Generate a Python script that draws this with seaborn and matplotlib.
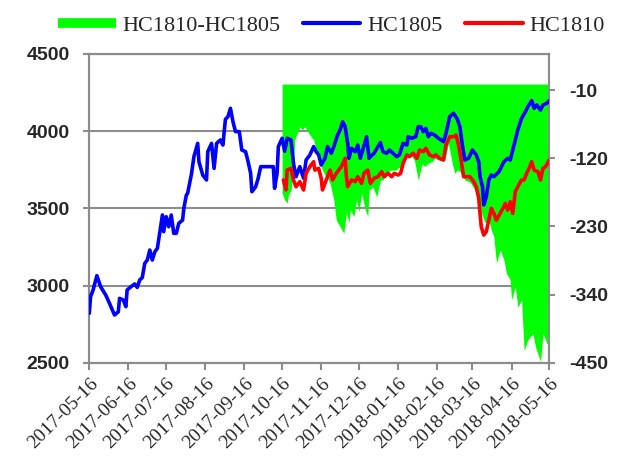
import matplotlib
matplotlib.use("Agg")
import matplotlib.pyplot as plt
import seaborn as sns
import pandas as pd
from matplotlib.lines import Line2D

# ---------------- data ----------------
blue_dates = ["2017-05-16", "2017-05-17", "2017-05-19", "2017-05-22", "2017-05-25", "2017-05-29",
              "2017-06-01", "2017-06-05", "2017-06-08", "2017-06-09", "2017-06-12", "2017-06-14",
              "2017-06-15", "2017-06-18", "2017-06-21", "2017-06-23", "2017-06-25", "2017-06-27",
              "2017-06-29", "2017-07-01", "2017-07-03", "2017-07-05", "2017-07-07", "2017-07-09",
              "2017-07-11", "2017-07-13", "2017-07-14", "2017-07-16", "2017-07-18", "2017-07-20",
              "2017-07-22", "2017-07-24", "2017-07-26", "2017-07-29", "2017-07-30", "2017-08-01",
              "2017-08-02", "2017-08-05", "2017-08-07", "2017-08-10", "2017-08-11", "2017-08-14",
              "2017-08-17", "2017-08-18", "2017-08-21", "2017-08-23", "2017-08-25", "2017-08-28",
              "2017-08-30", "2017-09-01", "2017-09-03", "2017-09-05", "2017-09-07", "2017-09-09",
              "2017-09-12", "2017-09-14", "2017-09-17", "2017-09-19", "2017-09-21", "2017-09-22",
              "2017-09-25", "2017-09-27", "2017-09-29", "2017-10-02", "2017-10-09", "2017-10-10",
              "2017-10-12", "2017-10-13", "2017-10-16", "2017-10-18", "2017-10-20", "2017-10-23",
              "2017-10-25", "2017-10-27", "2017-10-30", "2017-11-02", "2017-11-04", "2017-11-07",
              "2017-11-10", "2017-11-12", "2017-11-14", "2017-11-16", "2017-11-19", "2017-11-21",
              "2017-11-24", "2017-11-26", "2017-11-29", "2017-12-01", "2017-12-03", "2017-12-05",
              "2017-12-07", "2017-12-08", "2017-12-10", "2017-12-13", "2017-12-15", "2017-12-17",
              "2017-12-19", "2017-12-22", "2017-12-24", "2017-12-25", "2017-12-28", "2017-12-31",
              "2018-01-02", "2018-01-04", "2018-01-07", "2018-01-09", "2018-01-12", "2018-01-15",
              "2018-01-17", "2018-01-20", "2018-01-23", "2018-01-24", "2018-01-27", "2018-01-30",
              "2018-02-01", "2018-02-03", "2018-02-05", "2018-02-07", "2018-02-09", "2018-02-11",
              "2018-02-14", "2018-02-17", "2018-02-21", "2018-02-23", "2018-02-26", "2018-03-01",
              "2018-03-04", "2018-03-06", "2018-03-08", "2018-03-10", "2018-03-13", "2018-03-16",
              "2018-03-19", "2018-03-21", "2018-03-22", "2018-03-24", "2018-03-25", "2018-03-27",
              "2018-03-29", "2018-03-31", "2018-04-02", "2018-04-06", "2018-04-08", "2018-04-10",
              "2018-04-13", "2018-04-15", "2018-04-17", "2018-04-19", "2018-04-21", "2018-04-24",
              "2018-04-27", "2018-04-29", "2018-05-02", "2018-05-04", "2018-05-06", "2018-05-09",
              "2018-05-11", "2018-05-14", "2018-05-16"]
blue_vals = [2820, 2928, 2971, 3064, 2992, 2939,
             2885, 2809, 2830, 2917, 2906, 2863,
             2971, 2992, 3010, 2988, 3036, 3051,
             3144, 3165, 3230, 3165, 3219, 3241,
             3349, 3457, 3349, 3446, 3381, 3457,
             3338, 3338, 3403, 3424, 3500, 3586,
             3597, 3720, 3835, 3921, 3802, 3716,
             3684, 3867, 3921, 3759, 3921, 3943,
             3910, 4077, 4094, 4148, 4061, 3997,
             3997, 3878, 3867, 3802, 3727, 3608,
             3640, 3695, 3770, 3770, 3770, 3630,
             3727, 3900, 3954, 3870, 3954, 3943,
             3792, 3705, 3770, 3695, 3813, 3846,
             3900, 3867, 3846, 3781, 3824, 3900,
             3857, 3900, 3975, 4008, 4061, 4029,
             3921, 3824, 3889, 3867, 3910, 3824,
             3878, 3964, 3824, 3835, 3857, 3900,
             3926, 3867, 3857, 3878, 3857, 3835,
             3846, 3921, 3910, 3964, 3954, 3964,
             4029, 4029, 3997, 4018, 3964, 3986,
             3975, 3954, 3932, 3986, 4094, 4116,
             4078, 4029, 3910, 3813, 3824, 3878,
             3846, 3802, 3705, 3640, 3522, 3575,
             3684, 3716, 3705, 3737, 3770, 3802,
             3824, 3813, 3878, 3943, 4008, 4083,
             4126, 4159, 4198, 4148, 4170, 4137,
             4170, 4181, 4198]

red_dates = ["2017-10-17", "2017-10-19", "2017-10-20", "2017-10-23", "2017-10-25", "2017-10-27",
             "2017-10-30", "2017-11-02", "2017-11-04", "2017-11-07", "2017-11-10", "2017-11-11",
             "2017-11-14", "2017-11-16", "2017-11-17", "2017-11-20", "2017-11-23", "2017-11-25",
             "2017-11-28", "2017-12-02", "2017-12-05", "2017-12-06", "2017-12-07", "2017-12-10",
             "2017-12-13", "2017-12-15", "2017-12-18", "2017-12-20", "2017-12-23", "2017-12-25",
             "2017-12-28", "2017-12-31", "2018-01-03", "2018-01-05", "2018-01-08", "2018-01-11",
             "2018-01-13", "2018-01-16", "2018-01-18", "2018-01-20", "2018-01-23", "2018-01-25",
             "2018-01-28", "2018-01-31", "2018-02-02", "2018-02-05", "2018-02-07", "2018-02-10",
             "2018-02-13", "2018-02-15", "2018-02-18", "2018-02-21", "2018-02-23", "2018-02-26",
             "2018-03-01", "2018-03-03", "2018-03-05", "2018-03-07", "2018-03-09", "2018-03-12",
             "2018-03-14", "2018-03-17", "2018-03-19", "2018-03-21", "2018-03-22", "2018-03-23",
             "2018-03-25", "2018-03-27", "2018-03-29", "2018-03-31", "2018-04-02", "2018-04-04",
             "2018-04-07", "2018-04-10", "2018-04-11", "2018-04-13", "2018-04-15", "2018-04-17",
             "2018-04-19", "2018-04-21", "2018-04-24", "2018-04-26", "2018-04-28", "2018-04-30",
             "2018-05-02", "2018-05-04", "2018-05-07", "2018-05-09", "2018-05-11", "2018-05-13",
             "2018-05-16"]
red_vals = [3684, 3619, 3748, 3759, 3684, 3640,
            3673, 3619, 3727, 3770, 3802, 3748,
            3759, 3695, 3619, 3684, 3748, 3684,
            3727, 3770, 3824, 3705, 3640, 3684,
            3673, 3705, 3662, 3727, 3748, 3662,
            3695, 3705, 3737, 3705, 3727, 3705,
            3727, 3716, 3727, 3792, 3846, 3835,
            3857, 3824, 3878, 3867, 3889, 3846,
            3835, 3846, 3824, 3813, 3910, 3964,
            3964, 3975, 3910, 3813, 3705, 3705,
            3705, 3673, 3640, 3565, 3468, 3381,
            3327, 3349, 3424, 3500, 3468, 3424,
            3468, 3511, 3532, 3489, 3543, 3468,
            3608, 3640, 3684, 3684, 3727, 3759,
            3802, 3748, 3737, 3684, 3759, 3770,
            3813]

spread_dates = ["2017-10-16", "2017-10-17", "2017-10-18", "2017-10-20", "2017-10-21", "2017-10-23",
                "2017-10-25", "2017-10-26", "2017-10-29", "2017-10-30", "2017-11-01", "2017-11-03",
                "2017-11-06", "2017-11-08", "2017-11-10", "2017-11-12", "2017-11-14", "2017-11-17",
                "2017-11-19", "2017-11-21", "2017-11-23", "2017-11-26", "2017-11-28", "2017-12-01",
                "2017-12-04", "2017-12-05", "2017-12-06", "2017-12-08", "2017-12-09", "2017-12-12",
                "2017-12-14", "2017-12-16", "2017-12-18", "2017-12-21", "2017-12-23", "2017-12-24",
                "2017-12-27", "2017-12-30", "2018-01-02", "2018-01-04", "2018-01-07", "2018-01-10",
                "2018-01-14", "2018-01-18", "2018-01-22", "2018-01-25", "2018-01-29", "2018-02-01",
                "2018-02-04", "2018-02-06", "2018-02-09", "2018-02-12", "2018-02-14", "2018-02-18",
                "2018-02-22", "2018-02-25", "2018-02-28", "2018-03-02", "2018-03-04", "2018-03-06",
                "2018-03-08", "2018-03-10", "2018-03-14", "2018-03-18", "2018-03-21", "2018-03-23",
                "2018-03-26", "2018-03-29", "2018-03-31", "2018-04-02", "2018-04-04", "2018-04-07",
                "2018-04-10", "2018-04-12", "2018-04-15", "2018-04-16", "2018-04-19", "2018-04-21",
                "2018-04-24", "2018-04-26", "2018-04-29", "2018-05-03", "2018-05-05", "2018-05-09",
                "2018-05-11", "2018-05-14", "2018-05-16"]
spread_vals = [-175, -182, -187, -192, -179, -171,
               -139, -90, -74, -69, -74, -69,
               -79, -85, -90, -106, -123, -139,
               -147, -152, -160, -187, -220, -230,
               -241, -224, -208, -224, -203, -214,
               -187, -206, -176, -203, -214, -171,
               -166, -182, -155, -155, -144, -139,
               -139, -133, -117, -112, -123, -155,
               -128, -133, -128, -125, -120, -123,
               -123, -96, -128, -144, -139, -141,
               -147, -155, -158, -171, -192, -208,
               -224, -220, -236, -246, -289, -268,
               -284, -306, -316, -349, -327, -360,
               -349, -430, -413, -403, -424, -448,
               -403, -419, -418]

left_ticks = [2500, 3000, 3500, 4000, 4500]
right_ticks = [-450, -340, -230, -120, -10]
x_ticks = ["2017-05-16", "2017-06-16", "2017-07-16", "2017-08-16", "2017-09-16", "2017-10-16",
           "2017-11-16", "2017-12-16", "2018-01-16", "2018-02-16", "2018-03-16", "2018-04-16",
           "2018-05-16"]
series_names = ["HC1810-HC1805", "HC1805", "HC1810"]
colors = ["#00FF00", "#0000FF", "#FF0000"]

# ---------------- plotting ----------------
sns.set_style("white")
plt.rcParams["font.family"] = ["Liberation Serif", "DejaVu Serif"]
plt.rcParams["axes.unicode_minus"] = False

blue_df = pd.DataFrame({"date": pd.to_datetime(blue_dates), "value": blue_vals})
red_df = pd.DataFrame({"date": pd.to_datetime(red_dates), "value": red_vals})
spread_df = pd.DataFrame({"date": pd.to_datetime(spread_dates), "value": spread_vals})

fig = plt.figure(figsize=(6.25, 4.63), dpi=100)
ax = fig.add_axes([0.1429, 0.2166, 0.7360, 0.6668])
ax2 = ax.twinx()
ax3 = ax.twinx()

grey = "#8c8c8c"

# left axis: grid only
ax.set_ylim(2500, 4500)
ax.set_yticks(left_ticks)
ax.yaxis.grid(True, color=grey, linewidth=1.5)
ax.xaxis.grid(False)

# right axis: spread area
ax2.fill_between(spread_df["date"], 0, spread_df["value"], color=colors[0], linewidth=0)
ax2.set_ylim(-450, 48.6)
ax2.set_yticks(right_ticks)

# lines on a third axes sharing the left scale
sns.lineplot(data=blue_df, x="date", y="value", ax=ax3, color=colors[1], linewidth=2.6, legend=False)
sns.lineplot(data=red_df, x="date", y="value", ax=ax3, color=colors[2], linewidth=2.6, legend=False)
ax3.set_ylim(2500, 4500)
ax3.set_axis_off()

xt = pd.to_datetime(x_ticks)
ax.set_xlim(xt[0], xt[-1])
ax.set_xticks(xt)
ax.set_xticklabels(x_ticks, rotation=45, ha="right", rotation_mode="anchor", fontsize=14)
ax.set_xlabel("")
ax.set_ylabel("")
ax2.set_ylabel("")
ax3.set_xlabel("")

ax.set_zorder(0)
ax2.set_zorder(1)
ax3.set_zorder(2)
ax2.patch.set_visible(False)
ax3.patch.set_visible(False)

for a in (ax, ax2):
    for s in a.spines.values():
        s.set_color(grey)
        s.set_linewidth(1.5)

ax.tick_params(axis="x", direction="out", length=5, width=1.5, color=grey, pad=4, bottom=True)
ax.tick_params(axis="y", direction="out", length=4, width=1.5, color=grey, pad=10, left=True)
ax2.tick_params(axis="y", direction="out", length=4, width=1.5, color=grey, pad=10, right=True)

for lab in ax.get_yticklabels():
    lab.set_fontfamily("Liberation Sans")
    lab.set_fontweight("bold")
    lab.set_fontsize(14)
for lab in ax2.get_yticklabels():
    lab.set_fontfamily("Liberation Sans")
    lab.set_fontweight("bold")
    lab.set_fontsize(14)

handles = [Line2D([0], [0], color=colors[0], linewidth=7, solid_capstyle="butt"),
           Line2D([0], [0], color=colors[1], linewidth=3),
           Line2D([0], [0], color=colors[2], linewidth=3)]
fig.legend(handles, series_names, loc="upper center", bbox_to_anchor=(0.53, 1.01), ncol=3,
           frameon=False, fontsize=16, handlelength=2.6, handletextpad=0.3, columnspacing=1.0)

fig.savefig("out.png", dpi=100)
